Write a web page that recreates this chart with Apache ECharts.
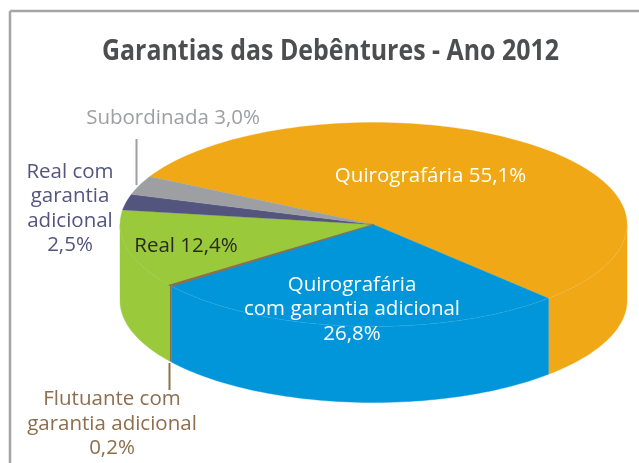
<!DOCTYPE html>
<html><head><meta charset="utf-8">
<style>html,body{margin:0;padding:0;background:#fff}#c{width:639px;height:463px}</style>
<script src="https://cdn.jsdelivr.net/npm/echarts@6/dist/echarts.min.js"></script>
</head><body><div id="c"></div>
<script>
// Data
const categories = ['Quirografária','Quirografária com garantia adicional','Flutuante com garantia adicional','Real','Real com garantia adicional','Subordinada'];
const values = [55.1, 26.8, 0.2, 12.4, 2.5, 3.0];
const colors = ['#F0A816','#0096D9','#8D6E4E','#9ACA3C','#54557F','#9D9FA2'];
const titleText = 'Garantias das Debêntures - Ano 2012';

// Pie projection
const CX = 373.5, CY = 224.5, RX = 253.5, RY = 102, DEPTH = 76, START_DEG = 208;
const FONT = '"Open Sans","Noto Sans",sans-serif';

const total = values.reduce((a, b) => a + b, 0);
const toRad = d => d * Math.PI / 180;
const pt = (deg, dy) => [CX + RX * Math.cos(toRad(deg)), CY + RY * Math.sin(toRad(deg)) + (dy || 0)];
function arc(a0, a1) {
  const n = Math.max(2, Math.ceil(Math.abs(a1 - a0) / 1.5)), out = [];
  for (let i = 0; i <= n; i++) out.push(pt(a0 + (a1 - a0) * i / n));
  return out;
}
function sliceAngles(i) {
  let s = 0;
  for (let k = 0; k < i; k++) s += values[k];
  return [START_DEG + s / total * 360, START_DEG + (s + values[i]) / total * 360];
}
// Visible part of the side wall: the front half, 0..180 degrees (mod 360)
function wallRanges(a0, a1) {
  const res = [];
  [[0, 180], [360, 540]].forEach(([lo, hi]) => {
    const s = Math.max(a0, lo), e = Math.min(a1, hi);
    if (e > s) res.push([s, e]);
  });
  return res;
}
const seriesData = values.map((v, i) => ({ name: categories[i], value: [i, v] }));

function renderWall(params, api) {
  const i = api.value(0), [a0, a1] = sliceAngles(i), kids = [];
  wallRanges(a0, a1).forEach(([s, e]) => {
    const top = arc(s, e);
    const bottom = top.slice().reverse().map(p => [p[0], p[1] + DEPTH]);
    kids.push({ type: 'polygon', shape: { points: top.concat(bottom) },
      style: { fill: colors[i], stroke: colors[i], lineWidth: 0.4 } });
  });
  return { type: 'group', children: kids };
}
function renderTop(params, api) {
  const i = api.value(0), [a0, a1] = sliceAngles(i);
  return { type: 'polygon', z2: i === 2 ? 5 : 1,
    shape: { points: [[CX, CY]].concat(arc(a0, a1)) },
    style: { fill: colors[i], stroke: colors[i], lineWidth: i === 2 ? 1.2 : 0.3 } };
}
function renderRim() {
  return { type: 'polyline', shape: { points: arc(0, 143) },
    style: { fill: null, stroke: 'rgba(255,255,255,0.14)', lineWidth: 0.6 } };
}
const label = (text, x, y, fill) => ({
  type: 'text', x, y, z: 20,
  style: { text, fill, font: '400 20.5px ' + FONT, align: 'center', verticalAlign: 'middle', lineHeight: 24.5 }
});
const leader = (x, y1, y2, stroke) => ({
  type: 'line', z: 20, shape: { x1: x, y1, x2: x, y2 }, style: { stroke, lineWidth: 2 }
});
const frame = (x1, y1, x2, y2) => ({
  type: 'line', z: 1, shape: { x1, y1, x2, y2 }, style: { stroke: '#A3A5A7', lineWidth: 2.5 }
});

const chart = echarts.init(document.getElementById('c'), null, { renderer: 'canvas' });
chart.setOption({
  animation: false,
  backgroundColor: '#fff',
  tooltip: { show: false },
  series: [
    { type: 'custom', coordinateSystem: 'none', z: 2, data: seriesData, renderItem: renderWall, silent: true },
    { type: 'custom', coordinateSystem: 'none', z: 3, data: seriesData, renderItem: renderTop, silent: true },
    { type: 'custom', coordinateSystem: 'none', z: 4, data: [{ value: [0] }], renderItem: renderRim, silent: true }
  ],
  graphic: { elements: [
    frame(10, 11, 639, 11), frame(10, 11, 10, 463),
    { type: 'text', x: 330.5, y: 52, scaleX: 0.89, z: 20,
      style: { text: titleText, fill: '#4D4E50', font: '700 28px ' + FONT, align: 'center', verticalAlign: 'middle' } },
    label('Subordinada 3,0%', 173, 118, colors[5]),
    label('Real com\ngarantia\nadicional\n2,5%', 70, 208.5, colors[4]),
    label('Real 12,4%', 186, 246, '#2A2A22'),
    label('Quirografária 55,1%', 430.5, 176, '#fff'),
    label('Quirografária\ncom garantia adicional\n26,8%', 352, 309.5, '#fff'),
    label('Flutuante com\ngarantia adicional\n0,2%', 112, 424, colors[2]),
    leader(136.5, 139, 185, colors[5]),
    leader(169.5, 363, 390, colors[2])
  ] }
});
</script></body></html>
